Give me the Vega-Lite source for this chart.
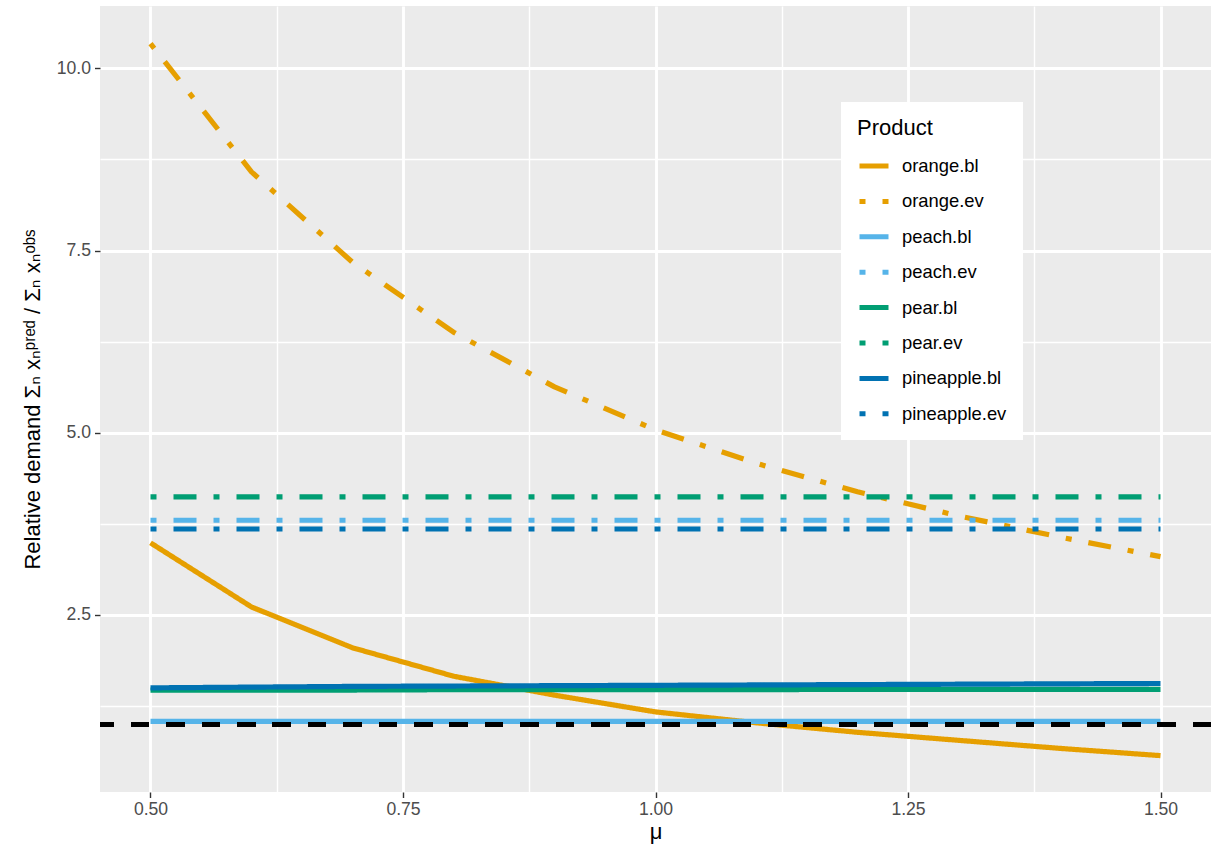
{
  "$schema": "https://vega.github.io/schema/vega-lite/v6.json",
  "autosize": {"type": "none"},
  "width": 1111,
  "height": 786,
  "padding": {"left": 100, "top": 6, "right": 0, "bottom": 52},
  "background": "white",
  "config": {
    "font": "Liberation Sans, DejaVu Sans, sans-serif",
    "view": {"fill": "#EBEBEB", "stroke": null},
    "axis": {
      "domain": false,
      "gridColor": "white",
      "tickColor": "#333333",
      "tickSize": 5.5,
      "tickWidth": 1.4,
      "labelColor": "#4D4D4D",
      "labelFontSize": 17.6,
      "titleFontSize": 22,
      "titleFontWeight": "normal",
      "titleColor": "black"
    },
    "legend": {
      "titleFontSize": 22,
      "titleFontWeight": "normal",
      "titleColor": "black",
      "labelFontSize": 18.4,
      "labelColor": "black"
    }
  },
  "data": {
    "values": [
      {"mu": 0.5, "value": 3.49, "Product": "orange.bl"},
      {"mu": 0.6, "value": 2.61, "Product": "orange.bl"},
      {"mu": 0.7, "value": 2.05, "Product": "orange.bl"},
      {"mu": 0.8, "value": 1.66, "Product": "orange.bl"},
      {"mu": 0.9, "value": 1.40, "Product": "orange.bl"},
      {"mu": 1.0, "value": 1.17, "Product": "orange.bl"},
      {"mu": 1.1, "value": 1.02, "Product": "orange.bl"},
      {"mu": 1.2, "value": 0.89, "Product": "orange.bl"},
      {"mu": 1.3, "value": 0.78, "Product": "orange.bl"},
      {"mu": 1.4, "value": 0.67, "Product": "orange.bl"},
      {"mu": 1.5, "value": 0.57, "Product": "orange.bl"},
      {"mu": 0.5, "value": 10.34, "Product": "orange.ev"},
      {"mu": 0.6, "value": 8.58, "Product": "orange.ev"},
      {"mu": 0.7, "value": 7.34, "Product": "orange.ev"},
      {"mu": 0.8, "value": 6.38, "Product": "orange.ev"},
      {"mu": 0.9, "value": 5.63, "Product": "orange.ev"},
      {"mu": 1.0, "value": 5.04, "Product": "orange.ev"},
      {"mu": 1.1, "value": 4.58, "Product": "orange.ev"},
      {"mu": 1.2, "value": 4.19, "Product": "orange.ev"},
      {"mu": 1.3, "value": 3.86, "Product": "orange.ev"},
      {"mu": 1.4, "value": 3.57, "Product": "orange.ev"},
      {"mu": 1.5, "value": 3.30, "Product": "orange.ev"},
      {"mu": 0.5, "value": 1.04, "Product": "peach.bl"},
      {"mu": 0.6, "value": 1.04, "Product": "peach.bl"},
      {"mu": 0.7, "value": 1.04, "Product": "peach.bl"},
      {"mu": 0.8, "value": 1.04, "Product": "peach.bl"},
      {"mu": 0.9, "value": 1.04, "Product": "peach.bl"},
      {"mu": 1.0, "value": 1.04, "Product": "peach.bl"},
      {"mu": 1.1, "value": 1.04, "Product": "peach.bl"},
      {"mu": 1.2, "value": 1.04, "Product": "peach.bl"},
      {"mu": 1.3, "value": 1.04, "Product": "peach.bl"},
      {"mu": 1.4, "value": 1.04, "Product": "peach.bl"},
      {"mu": 1.5, "value": 1.04, "Product": "peach.bl"},
      {"mu": 0.5, "value": 3.80, "Product": "peach.ev"},
      {"mu": 0.6, "value": 3.80, "Product": "peach.ev"},
      {"mu": 0.7, "value": 3.80, "Product": "peach.ev"},
      {"mu": 0.8, "value": 3.80, "Product": "peach.ev"},
      {"mu": 0.9, "value": 3.80, "Product": "peach.ev"},
      {"mu": 1.0, "value": 3.80, "Product": "peach.ev"},
      {"mu": 1.1, "value": 3.80, "Product": "peach.ev"},
      {"mu": 1.2, "value": 3.80, "Product": "peach.ev"},
      {"mu": 1.3, "value": 3.80, "Product": "peach.ev"},
      {"mu": 1.4, "value": 3.80, "Product": "peach.ev"},
      {"mu": 1.5, "value": 3.80, "Product": "peach.ev"},
      {"mu": 0.5, "value": 1.47, "Product": "pear.bl"},
      {"mu": 0.6, "value": 1.47, "Product": "pear.bl"},
      {"mu": 0.7, "value": 1.47, "Product": "pear.bl"},
      {"mu": 0.8, "value": 1.475, "Product": "pear.bl"},
      {"mu": 0.9, "value": 1.475, "Product": "pear.bl"},
      {"mu": 1.0, "value": 1.475, "Product": "pear.bl"},
      {"mu": 1.1, "value": 1.475, "Product": "pear.bl"},
      {"mu": 1.2, "value": 1.48, "Product": "pear.bl"},
      {"mu": 1.3, "value": 1.48, "Product": "pear.bl"},
      {"mu": 1.4, "value": 1.48, "Product": "pear.bl"},
      {"mu": 1.5, "value": 1.48, "Product": "pear.bl"},
      {"mu": 0.5, "value": 4.12, "Product": "pear.ev"},
      {"mu": 0.6, "value": 4.12, "Product": "pear.ev"},
      {"mu": 0.7, "value": 4.12, "Product": "pear.ev"},
      {"mu": 0.8, "value": 4.12, "Product": "pear.ev"},
      {"mu": 0.9, "value": 4.12, "Product": "pear.ev"},
      {"mu": 1.0, "value": 4.12, "Product": "pear.ev"},
      {"mu": 1.1, "value": 4.12, "Product": "pear.ev"},
      {"mu": 1.2, "value": 4.12, "Product": "pear.ev"},
      {"mu": 1.3, "value": 4.12, "Product": "pear.ev"},
      {"mu": 1.4, "value": 4.12, "Product": "pear.ev"},
      {"mu": 1.5, "value": 4.12, "Product": "pear.ev"},
      {"mu": 0.5, "value": 1.50, "Product": "pineapple.bl"},
      {"mu": 0.6, "value": 1.51, "Product": "pineapple.bl"},
      {"mu": 0.7, "value": 1.52, "Product": "pineapple.bl"},
      {"mu": 0.8, "value": 1.525, "Product": "pineapple.bl"},
      {"mu": 0.9, "value": 1.53, "Product": "pineapple.bl"},
      {"mu": 1.0, "value": 1.535, "Product": "pineapple.bl"},
      {"mu": 1.1, "value": 1.54, "Product": "pineapple.bl"},
      {"mu": 1.2, "value": 1.545, "Product": "pineapple.bl"},
      {"mu": 1.3, "value": 1.55, "Product": "pineapple.bl"},
      {"mu": 1.4, "value": 1.555, "Product": "pineapple.bl"},
      {"mu": 1.5, "value": 1.56, "Product": "pineapple.bl"},
      {"mu": 0.5, "value": 3.68, "Product": "pineapple.ev"},
      {"mu": 0.6, "value": 3.68, "Product": "pineapple.ev"},
      {"mu": 0.7, "value": 3.68, "Product": "pineapple.ev"},
      {"mu": 0.8, "value": 3.68, "Product": "pineapple.ev"},
      {"mu": 0.9, "value": 3.68, "Product": "pineapple.ev"},
      {"mu": 1.0, "value": 3.68, "Product": "pineapple.ev"},
      {"mu": 1.1, "value": 3.68, "Product": "pineapple.ev"},
      {"mu": 1.2, "value": 3.68, "Product": "pineapple.ev"},
      {"mu": 1.3, "value": 3.68, "Product": "pineapple.ev"},
      {"mu": 1.4, "value": 3.68, "Product": "pineapple.ev"},
      {"mu": 1.5, "value": 3.68, "Product": "pineapple.ev"}
    ]
  },
  "layer": [
    {
      "mark": {"type": "line", "strokeWidth": 5.2, "strokeCap": "butt", "strokeJoin": "round"},
      "encoding": {
        "x": {
          "field": "mu",
          "type": "quantitative",
          "title": "μ",
          "scale": {"domain": [0.45, 1.55], "nice": false, "zero": false},
          "axis": {
            "values": [0.5, 0.625, 0.75, 0.875, 1.0, 1.125, 1.25, 1.375, 1.5],
            "labelExpr": "abs(datum.value*4 - round(datum.value*4)) < 0.01 ? format(datum.value, '.2f') : ''",
            "gridWidth": {"condition": {"test": "abs(datum.value*4 - round(datum.value*4)) > 0.01", "value": 1.4}, "value": 2.85},
            "tickOpacity": {"condition": {"test": "abs(datum.value*4 - round(datum.value*4)) > 0.01", "value": 0}, "value": 1},
            "labelPadding": 3,
            "titlePadding": 3
          }
        },
        "y": {
          "field": "value",
          "type": "quantitative",
          "title": "Relative demand  Σₙ xₙᵖʳᵉᵈ / Σₙ xₙᵒᵇˢ",
          "scale": {"domain": [0.071, 10.856], "nice": false, "zero": false},
          "axis": {
            "values": [1.25, 2.5, 3.75, 5, 6.25, 7.5, 8.75, 10],
            "labelExpr": "abs(datum.value/2.5 - round(datum.value/2.5)) < 0.01 ? format(datum.value, '.1f') : ''",
            "gridWidth": {"condition": {"test": "abs(datum.value/2.5 - round(datum.value/2.5)) > 0.01", "value": 1.4}, "value": 2.85},
            "tickOpacity": {"condition": {"test": "abs(datum.value/2.5 - round(datum.value/2.5)) > 0.01", "value": 0}, "value": 1},
            "labelPadding": 4,
            "titlePadding": 12
          }
        },
        "color": {
          "field": "Product",
          "type": "nominal",
          "title": "Product",
          "scale": {
            "domain": ["orange.bl", "orange.ev", "peach.bl", "peach.ev", "pear.bl", "pear.ev", "pineapple.bl", "pineapple.ev"],
            "range": ["#E69F00", "#E69F00", "#56B4E9", "#56B4E9", "#009E73", "#009E73", "#0072B2", "#0072B2"]
          },
          "legend": {
            "orient": "none",
            "legendX": 741,
            "legendY": 96,
            "padding": 16,
            "fillColor": "white",
            "symbolType": "stroke",
            "symbolStrokeWidth": 5,
            "symbolSize": 841,
            "labelOffset": 11,
            "rowPadding": 8.4,
            "titlePadding": 9
          }
        },
        "strokeDash": {
          "field": "Product",
          "type": "nominal",
          "title": "Product",
          "scale": {
            "domain": ["orange.bl", "orange.ev", "peach.bl", "peach.ev", "pear.bl", "pear.ev", "pineapple.bl", "pineapple.ev"],
            "range": [[1, 0], [6, 17, 23, 17], [1, 0], [6, 17, 23, 17], [1, 0], [6, 17, 23, 17], [1, 0], [6, 17, 23, 17]]
          }
        }
      }
    },
    {
      "mark": {"type": "rule", "color": "black", "strokeWidth": 4.5, "strokeDash": [17.7, 17.7]},
      "encoding": {
        "y": {"datum": 1, "type": "quantitative"}
      }
    }
  ]
}
